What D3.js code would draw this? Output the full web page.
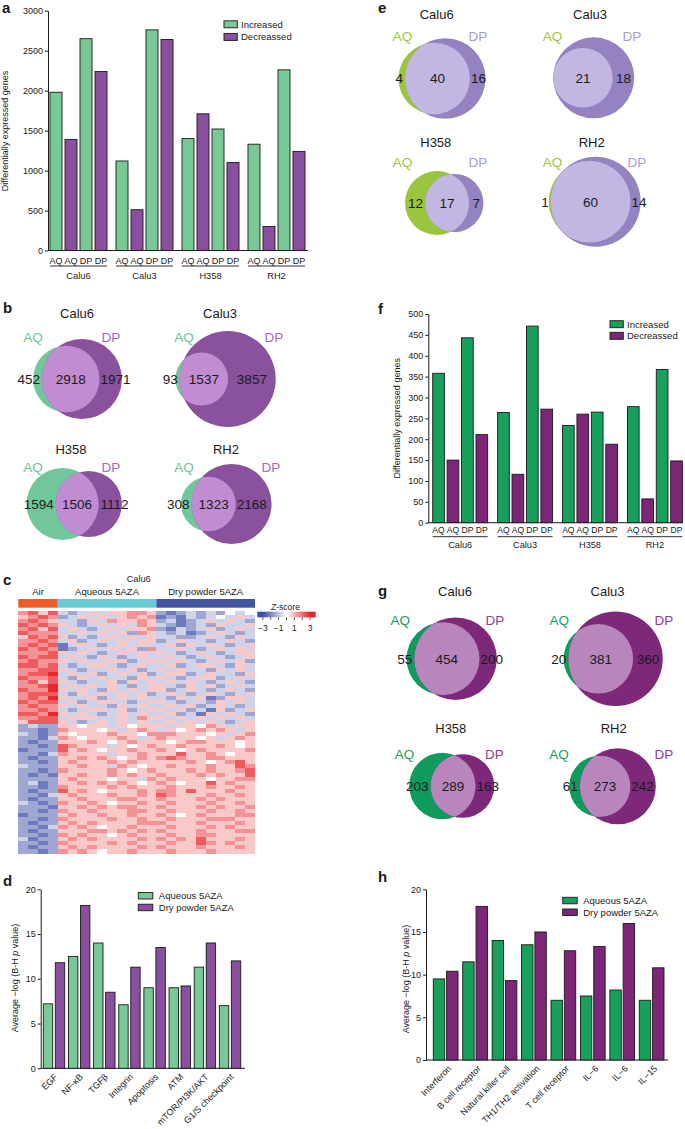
<!DOCTYPE html>
<html><head><meta charset="utf-8">
<script src="https://cdn.jsdelivr.net/npm/d3@7"></script>
<style>body{margin:0;background:#fff}svg{display:block}text{font-family:"Liberation Sans",Arial,Helvetica,sans-serif;fill:#1a1a1a}</style>
</head><body><svg id="fig" width="685" height="1129"></svg>
<script>
// ---------------- DATA ----------------
const cellLines = ["Calu6", "Calu3", "H358", "RH2"];
const barSubLabels = ["AQ", "AQ", "DP", "DP"];
const degSeries = ["Increased", "Decreassed"];
// panel a (order per cell line: AQ increased, AQ decreased, DP increased, DP decreased)
const degA_AQinc = [1980, 1120, 1400, 1330];
const degA_AQdec = [1390, 510, 1710, 300];
const degA_DPinc = [2650, 2760, 1520, 2260];
const degA_DPdec = [2240, 2640, 1100, 1240];
const ticksA = [0, 500, 1000, 1500, 2000, 2500, 3000];
// panel f
const degF_AQinc = [358, 264, 233, 278];
const degF_AQdec = [150, 116, 260, 57];
const degF_DPinc = [443, 471, 265, 367];
const degF_DPdec = [211, 272, 188, 148];
const ticksF = [0, 50, 100, 150, 200, 250, 300, 350, 400, 450, 500];
// Venn b
const vennB_aqOnly = [452, 93, 1594, 308];
const vennB_both = [2918, 1537, 1506, 1323];
const vennB_dpOnly = [1971, 3857, 1112, 2168];
// Venn e
const vennE_aqOnly = [4, 0, 12, 1];
const vennE_both = [40, 21, 17, 60];
const vennE_dpOnly = [16, 18, 7, 14];
// Venn g
const vennG_aqOnly = [55, 20, 203, 61];
const vennG_both = [454, 381, 289, 273];
const vennG_dpOnly = [200, 360, 163, 242];
// panel d
const pathwaysD = ["EGF", "NF-\u03BAB", "TGF\u03B2", "Integrin", "Apoptosis", "ATM", "mTOR/PI3K/AKT", "G1/S checkpoint"];
const aqD = [7.2, 12.5, 14.0, 7.1, 9.0, 9.0, 11.3, 7.0];
const dpD = [11.8, 18.2, 8.5, 11.3, 13.5, 9.2, 14.0, 12.0];
// panel h
const pathwaysH = ["Interferon", "B cell receptor", "Natural killer cell", "TH1/TH2 activation", "T cell receptor", "IL\u22126", "IL\u22126", "IL\u221215"];
const aqH = [9.5, 11.5, 14.0, 13.5, 7.0, 7.5, 8.2, 7.0];
const dpH = [10.4, 18.0, 9.3, 15.0, 12.8, 13.3, 16.0, 10.8];
const ticksP = [0, 5, 10, 15, 20];
const pathSeries = ["Aqueous 5AZA", "Dry powder 5AZA"];
// panel c heatmap: z-score level per cell, digit d -> z = (d-4)*0.75
const heatGroups = ["Air", "Aqueous 5AZA", "Dry powder 5AZA"];
const heatGroupCols = [4, 10, 10];
const zTicks = [-3, -1, 1, 3];
const heatRows = [
"6757 3235355665 2123232434","5676 2353535656 1213234353","6765 3325365565 2312353532","7676 5323535365 3212325335",
"6757 3532353556 2132352353","7666 3353535265 3231235323","5767 5232353535 3322353253","6676 3523535355 2353323532",
"6767 1353235353 3525353235","7676 1235353526 3353235353","6667 5353235353 5323532355","7677 3532532353 3532353235",
"6766 5353355235 5353235352","7767 3235532353 3523553253","6677 5323353523 5353325353","6778 3535235352 3552353325",
"7667 3253533253 5323552353","6757 5323352535 3535323532","6678 3535353235 5325352353","7668 5353253535 5235323532",
"6777 3253535352 3532353235","6768 5335235353 3253512553","7677 3523553235 5323325353","6766 5353325353 3535235323",
"6676 3235535235 5352315235","7768 5353235353 3523153532","6677 3555335365 5353535353","5777 5323535353 3535353235",
"2322 5545535455 5355465355","2212 6555453565 3545656535","3212 5455565546 6655545356","2213 6545556535 6555453565",
"2122 5556545655 5456655545","2212 7655535456 5565556545","1222 7565455655 6545655556","2213 6555535565 5575565455",
"2122 5565654565 6765566555","2212 5655565655 5556545675","3222 5565536545 5655565576","2212 6555565456 5556565567",
"2121 5565565655 6555656557","2222 5655545536 5655545566","2312 5565656545 6545575655","2212 6555565655 5655565565",
"2122 7565455565 6657555655","2213 5655565565 7655565565","2122 5565556655 6555656555","3212 6556545565 5655565565",
"2221 5565656655 6555656556","2212 6556555665 5655565565","1222 5655655655 6545655566","2212 6555565565 5655566655",
"2122 5656555566 6555655565","2213 6565455655 5655565655","2122 5556656565 6555655566","2212 6565545655 5655665555",
"3122 5656555565 6565755565","2212 6555565655 5655765655","2122 5656555565 6555655565","2212 6565455655 5655565555"
];

// ---------------- STYLE / LAYOUT ----------------
const FONT = '"Liberation Sans", Arial, Helvetica, sans-serif';
const INK = "#1a1a1a";
const svg = d3.select("#fig");
svg.append("rect").attr("width", 685).attr("height", 1129).attr("fill", "#fff");

function letter(t, x, y) {
  svg.append("text").attr("x", x).attr("y", y).attr("font-size", 15).attr("font-weight", "bold").text(t);
}
function styleAxis(sel, fs) {
  sel.attr("font-size", fs).attr("font-family", FONT);
  sel.selectAll("path,line").attr("stroke", INK).attr("stroke-width", 1);
  sel.selectAll("text").attr("fill", INK);
}
function yLabel(g, parts, x, y, fs) {
  const t = g.append("text").attr("transform", `translate(${x},${y}) rotate(-90)`)
    .attr("text-anchor", "middle").attr("font-size", fs);
  parts.forEach(p => t.append("tspan").attr("font-style", p.i ? "italic" : null).text(p.t));
}
function legend(g, items, colors, x, y0, dy, w, h, tx, fs) {
  items.forEach((it, i) => {
    g.append("rect").attr("x", x).attr("y", y0 + i * dy).attr("width", w).attr("height", h)
      .attr("fill", colors[i]).attr("stroke", INK).attr("stroke-width", 0.9);
    g.append("text").attr("x", tx).attr("y", y0 + i * dy + h / 2).attr("dy", "0.36em")
      .attr("font-size", fs).text(it);
  });
}

// ---------- grouped DEG bar chart (a, f) ----------
function degChart(o) {
  const g = svg.append("g");
  const y = d3.scaleLinear().domain([0, o.yMax]).range([o.yBot, o.yTop]);
  const xg = d3.scaleBand().domain(cellLines).range(o.groupRange).paddingInner(o.padG);
  const xi = d3.scaleBand().domain(d3.range(4)).range([0, xg.bandwidth()]).paddingInner(o.padI);
  const ax = g.append("g").attr("transform", `translate(${o.axisX},0)`)
    .call(d3.axisLeft(y).tickValues(o.ticks).tickFormat(d3.format("d")).tickSize(3).tickSizeOuter(0).tickPadding(2));
  styleAxis(ax, o.tickFs);
  g.append("line").attr("x1", o.axisX).attr("x2", o.axisEnd).attr("y1", o.yBot).attr("y2", o.yBot)
    .attr("stroke", INK).attr("stroke-width", 1);
  cellLines.forEach((c, ci) => {
    o.vals.forEach((arr, k) => {
      g.append("rect").attr("x", xg(c) + xi(k)).attr("y", y(arr[ci]))
        .attr("width", xi.bandwidth()).attr("height", o.yBot - y(arr[ci]))
        .attr("fill", k % 2 === 0 ? o.colors[0] : o.colors[1])
        .attr("stroke", INK).attr("stroke-width", 0.9);
      g.append("text").attr("x", xg(c) + xi(k) + xi.bandwidth() / 2).attr("y", o.subY)
        .attr("text-anchor", "middle").attr("font-size", o.subFs).text(barSubLabels[k]);
    });
    g.append("line").attr("x1", xg(c)).attr("x2", xg(c) + xg.bandwidth())
      .attr("y1", o.lineY).attr("y2", o.lineY).attr("stroke", INK).attr("stroke-width", 0.9);
    g.append("text").attr("x", xg(c) + xg.bandwidth() / 2).attr("y", o.nameY)
      .attr("text-anchor", "middle").attr("font-size", o.nameFs).text(c);
  });
  yLabel(g, [{t: "Differentially expressed genes"}], o.ylabX, o.ylabY, 9);
  legend(g, degSeries, o.colors, o.legX, o.legY, o.legDy, 13.3, 7, o.legX + 17, 9.5);
}

// ---------- pathway bar chart (d, h) ----------
function pathChart(o) {
  const g = svg.append("g");
  const y = d3.scaleLinear().domain([0, 20]).range([o.yBot, o.yTop]);
  const xc = d3.scaleBand().domain(d3.range(o.labels.length)).range(o.groupRange).paddingInner(o.padG);
  const xi = d3.scaleBand().domain([0, 1]).range([0, xc.bandwidth()]).paddingInner(o.padI);
  const ax = g.append("g").attr("transform", `translate(${o.axisX},0)`)
    .call(d3.axisLeft(y).tickValues(ticksP).tickSize(3).tickSizeOuter(0).tickPadding(2));
  styleAxis(ax, 9);
  g.append("line").attr("x1", o.axisX).attr("x2", o.axisEnd).attr("y1", o.yBot).attr("y2", o.yBot)
    .attr("stroke", INK).attr("stroke-width", 1);
  o.labels.forEach((lab, i) => {
    [o.aq, o.dp].forEach((arr, k) => {
      g.append("rect").attr("x", xc(i) + xi(k)).attr("y", y(arr[i]))
        .attr("width", xi.bandwidth()).attr("height", o.yBot - y(arr[i]))
        .attr("fill", o.colors[k]).attr("stroke", INK).attr("stroke-width", 0.9);
    });
    const cx = xc(i) + xc.bandwidth() / 2 + o.labDx;
    g.append("text").attr("transform", `translate(${cx},${o.yBot + o.labDy}) rotate(-45)`)
      .attr("text-anchor", "end").attr("dy", "0.35em").attr("font-size", 9).text(lab);
  });
  yLabel(g, [{t: "Average \u2212log (B-H "}, {t: "p", i: true}, {t: " value)"}], o.ylabX, o.ylabY, 9);
  legend(g, pathSeries, o.colors, o.legX, o.legY, o.legDy, 14.5, 6.5, o.legX + 20.5, 9.5);
}

// ---------- Venn ----------
function lensArea(r1, r2, d) {
  if (d >= r1 + r2) return 0;
  if (d <= Math.abs(r1 - r2)) return Math.PI * Math.min(r1, r2) ** 2;
  const a = r1 * r1 * Math.acos((d * d + r1 * r1 - r2 * r2) / (2 * d * r1));
  const b = r2 * r2 * Math.acos((d * d + r2 * r2 - r1 * r1) / (2 * d * r2));
  const c = 0.5 * Math.sqrt((-d + r1 + r2) * (d + r1 - r2) * (d - r1 + r2) * (d + r1 + r2));
  return a + b - c;
}
let clipId = 0;
function venn(name, aqOnly, both, dpOnly, L, C) {
  const g = svg.append("g");
  const aqTot = aqOnly + both, dpTot = dpOnly + both;
  const r = d3.scaleSqrt().domain([0, Math.max(aqTot, dpTot)]).range([0, L.R]);
  const rA = r(aqTot), rB = r(dpTot);
  const target = Math.PI * r(both) ** 2;
  let lo = Math.abs(rA - rB), hi = rA + rB;
  for (let k = 0; k < 60; k++) { const m = (lo + hi) / 2; if (lensArea(rA, rB, m) > target) lo = m; else hi = m; }
  const d = (lo + hi) / 2;
  const width = rA + Math.max(d + rB, rA);
  const ax = L.cx - width / 2 + rA, bx = ax + d, cy = L.cy;
  const id = "vc" + (clipId++);
  g.append("clipPath").attr("id", id).append("circle").attr("cx", ax).attr("cy", cy).attr("r", rA);
  g.append("circle").attr("cx", ax).attr("cy", cy).attr("r", rA).attr("fill", C.aq);
  g.append("circle").attr("cx", bx).attr("cy", cy).attr("r", rB).attr("fill", C.dp);
  g.append("circle").attr("cx", bx).attr("cy", cy).attr("r", rB).attr("fill", C.both).attr("clip-path", `url(#${id})`);
  g.append("text").attr("x", L.tx).attr("y", L.ty).attr("text-anchor", "middle").attr("font-size", 13).text(name);
  g.append("text").attr("x", L.aqx).attr("y", L.ly).attr("text-anchor", "middle").attr("font-size", 13.5).style("fill", C.aqText).text("AQ");
  g.append("text").attr("x", L.dpx).attr("y", L.ly).attr("text-anchor", "middle").attr("font-size", 13.5).style("fill", C.dpText).text("DP");
  const fs = 13.5, tw = v => String(v).length * 0.556 * fs;
  const A0 = ax - rA, A1 = ax + rA, B0 = bx - rB, B1 = bx + rB;
  const num = (v, x) => g.append("text").attr("x", x).attr("y", cy).attr("dy", "0.36em")
    .attr("text-anchor", "middle").attr("font-size", fs).text(v);
  if (aqOnly > 0) {
    const w = B0 - A0;
    num(aqOnly, w > tw(aqOnly) + 6 ? (A0 + B0) / 2 : B0 - 2 - tw(aqOnly) / 2);
  }
  num(both, (Math.max(A0, B0) + Math.min(A1, B1)) / 2);
  if (dpOnly > 0) {
    const w = B1 - A1;
    num(dpOnly, w > tw(dpOnly) + 6 ? (A1 + B1) / 2 : A1 + 1 + tw(dpOnly) / 2);
  }
}

// ================= PANEL a =================
letter("a", 2, 13);
degChart({
  vals: [degA_AQinc, degA_AQdec, degA_DPinc, degA_DPdec], yMax: 3000, ticks: ticksA,
  yTop: 10.7, yBot: 250.5, axisX: 48, axisEnd: 308, groupRange: [50, 305], padG: 0.136, padI: 0.2,
  colors: ["#79c996", "#8a4f9f"], tickFs: 9, subY: 263.5, subFs: 9, lineY: 266, nameY: 279, nameFs: 9.3,
  ylabX: 8, ylabY: 131, legX: 224, legY: 20.8, legDy: 12.6
});

// ================= PANEL b =================
letter("b", 3, 313);
const colB = {aq: "#72c69b", dp: "#8a529c", both: "#c28cd2", aqText: "#6bc598", dpText: "#a46abf"};
const layB = [
  {cx: 77.5, cy: 379, R: 40, tx: 77, ty: 317.7, aqx: 33, dpx: 110.8, ly: 341.7},
  {cx: 225.5, cy: 379, R: 48, tx: 220, ty: 317.7, aqx: 184, dpx: 274, ly: 341.7},
  {cx: 74.2, cy: 504, R: 36, tx: 71, ty: 454, aqx: 33, dpx: 110.8, ly: 472.3},
  {cx: 226.3, cy: 504, R: 40, tx: 226, ty: 453.5, aqx: 184, dpx: 271, ly: 472.3}
];
cellLines.forEach((c, i) => venn(c, vennB_aqOnly[i], vennB_both[i], vennB_dpOnly[i], layB[i], colB));

// ================= PANEL c =================
letter("c", 3, 585);
(function heatmap() {
  const g = svg.append("g");
  const cells = heatRows.map(r => r.replace(/ /g, "").split("").map(ch => (+ch - 4) * 0.75));
  const nCol = d3.sum(heatGroupCols);
  const x = d3.scaleBand().domain(d3.range(nCol)).range([18.3, 255]);
  const y = d3.scaleBand().domain(d3.range(cells.length)).range([611, 853.3]);
  const col = d3.scaleLinear().domain([-3, 0, 3]).range(["#3c4ea5", "#ffffff", "#e8262a"]).clamp(true);
  cells.forEach((row, ri) => row.forEach((v, ci) => {
    g.append("rect").attr("x", x(ci)).attr("y", y(ri)).attr("width", x.bandwidth() + 0.3)
      .attr("height", y.bandwidth() + 0.3).attr("fill", col(v)).attr("shape-rendering", "crispEdges");
  }));
  const hColors = ["#f05a2a", "#67cbd8", "#4352a3"];
  let start = 0;
  heatGroups.forEach((name, i) => {
    const x0 = x(start), x1 = x(start + heatGroupCols[i] - 1) + x.bandwidth();
    g.append("rect").attr("x", x0).attr("y", 599).attr("width", x1 - x0).attr("height", 8.7).attr("fill", hColors[i]);
    g.append("text").attr("x", (x0 + x1) / 2).attr("y", 594.5).attr("text-anchor", "middle").attr("font-size", 9.5).text(name);
    start += heatGroupCols[i];
  });
  g.append("text").attr("x", 138.7).attr("y", 582.3).attr("text-anchor", "middle").attr("font-size", 9.2).text("Calu6");
  // z-score colour key
  const zx = d3.scaleLinear().domain([-3.7, 3.7]).range([257.3, 315.7]);
  const grad = svg.append("defs").append("linearGradient").attr("id", "zgrad");
  [-3.7, -3, 0, 3, 3.7].forEach(v => grad.append("stop").attr("offset", (zx(v) - 257.3) / (315.7 - 257.3)).attr("stop-color", col(v)));
  g.append("rect").attr("x", 257.3).attr("y", 611.7).attr("width", 58.4).attr("height", 5.6).attr("fill", "url(#zgrad)");
  d3.range(-3, 4).forEach(v => g.append("line").attr("x1", zx(v)).attr("x2", zx(v)).attr("y1", 617.3).attr("y2", 620)
    .attr("stroke", INK).attr("stroke-width", 0.7));
  zTicks.forEach(v => g.append("text").attr("x", zx(v)).attr("y", 631).attr("text-anchor", "middle")
    .attr("font-size", 8.5).text(v < 0 ? "\u2212" + Math.abs(v) : String(v)));
  const zt = g.append("text").attr("x", 285.5).attr("y", 609.5).attr("text-anchor", "middle").attr("font-size", 8.5);
  zt.append("tspan").attr("font-style", "italic").text("Z");
  zt.append("tspan").text("-score");
})();

// ================= PANEL d =================
letter("d", 3, 886);
pathChart({
  labels: pathwaysD, aq: aqD, dp: dpD, yTop: 889.3, yBot: 1068.3, axisX: 40.7, axisEnd: 245,
  groupRange: [43.3, 240.75], padG: 0.149, padI: 0.217, colors: ["#79c996", "#8a4f9f"],
  labDx: 2, labDy: 7, ylabX: 17.5, ylabY: 978, legX: 138.3, legY: 892.5, legDy: 11.7
});

// ================= PANEL e =================
letter("e", 378, 13);
const colE = {aq: "#9bc53d", dp: "#9482c1", both: "#c2b6e2", aqText: "#9bc53d", dpText: "#a99ad3"};
const layE = [
  {cx: 442, cy: 78.5, R: 40.3, tx: 436.7, ty: 19.3, aqx: 402.5, dpx: 478, ly: 41},
  {cx: 593.7, cy: 77.8, R: 40.5, tx: 590, ty: 19.3, aqx: 552.5, dpx: 632, ly: 41},
  {cx: 444.2, cy: 203, R: 32, tx: 435.8, ty: 146.7, aqx: 402.5, dpx: 478, ly: 167.3},
  {cx: 594.7, cy: 201.7, R: 45, tx: 591.7, ty: 146.5, aqx: 552.5, dpx: 637, ly: 167.3}
];
cellLines.forEach((c, i) => venn(c, vennE_aqOnly[i], vennE_both[i], vennE_dpOnly[i], layE[i], colE));

// ================= PANEL f =================
letter("f", 378, 314);
degChart({
  vals: [degF_AQinc, degF_AQdec, degF_DPinc, degF_DPdec], yMax: 500, ticks: ticksF,
  yTop: 314, yBot: 522.7, axisX: 428.3, axisEnd: 683, groupRange: [432.7, 682.4], padG: 0.153, padI: 0.19,
  colors: ["#17a05b", "#7b2677"], tickFs: 9, subY: 533.3, subFs: 8.6, lineY: 536.7, nameY: 548.3, nameFs: 9.2,
  ylabX: 400, ylabY: 418.3, legX: 610, legY: 320.7, legDy: 11.6
});

// ================= PANEL g =================
letter("g", 378, 596);
const colG = {aq: "#0f9a5e", dp: "#7d2879", both: "#b886bc", aqText: "#179d63", dpText: "#8e3d92"};
const layG = [
  {cx: 451.7, cy: 658.7, R: 41.3, tx: 455, ty: 596, aqx: 400.3, dpx: 495, ly: 625},
  {cx: 613.2, cy: 658.8, R: 47.2, tx: 607.5, ty: 596, aqx: 559.3, dpx: 664, ly: 625},
  {cx: 451.7, cy: 786, R: 33.2, tx: 450.8, ty: 733.3, aqx: 404.5, dpx: 494.5, ly: 759},
  {cx: 612.5, cy: 786.3, R: 38, tx: 613.7, ty: 733.3, aqx: 559, dpx: 664, ly: 759}
];
cellLines.forEach((c, i) => venn(c, vennG_aqOnly[i], vennG_both[i], vennG_dpOnly[i], layG[i], colG));

// ================= PANEL h =================
letter("h", 378, 882);
pathChart({
  labels: pathwaysH, aq: aqH, dp: dpH, yTop: 889.3, yBot: 1060, axisX: 426, axisEnd: 668.3,
  groupRange: [433.3, 664.0], padG: 0.16, padI: 0.143, colors: ["#17a05b", "#7b2677"],
  labDx: 4, labDy: 7, ylabX: 409, ylabY: 979, legX: 562.7, legY: 897.3, legDy: 11.7
});
</script></body></html>
